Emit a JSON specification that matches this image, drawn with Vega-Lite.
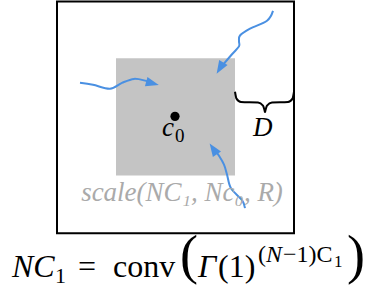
{
  "$schema": "https://vega.github.io/schema/vega-lite/v6.json",
  "width": 365,
  "height": 287,
  "autosize": {"type": "fit", "contains": "padding"},
  "padding": 0,
  "config": {"view": {"stroke": null}, "text": {"font": "Liberation Serif"}},
  "datasets": {
    "box": [{"x": 57, "x2": 294, "y": 0.5, "y2": 235.5}],
    "square": [{"x": 116, "x2": 235, "y": 58, "y2": 177}],
    "arrows": [
      {"id": "left", "i": 0, "x": 80, "y": 83},
      {"id": "left", "i": 1, "x": 93, "y": 85},
      {"id": "left", "i": 2, "x": 110, "y": 89},
      {"id": "left", "i": 3, "x": 122, "y": 83},
      {"id": "left", "i": 4, "x": 134, "y": 79},
      {"id": "left", "i": 5, "x": 146, "y": 81},
      {"id": "left", "i": 6, "x": 153, "y": 83.5},
      {"id": "top", "i": 0, "x": 273, "y": 10},
      {"id": "top", "i": 1, "x": 267, "y": 20},
      {"id": "top", "i": 2, "x": 250, "y": 28},
      {"id": "top", "i": 3, "x": 240, "y": 35},
      {"id": "top", "i": 4, "x": 239, "y": 41},
      {"id": "top", "i": 5, "x": 239, "y": 46},
      {"id": "top", "i": 6, "x": 232, "y": 54},
      {"id": "top", "i": 7, "x": 221, "y": 67},
      {"id": "bottom", "i": 0, "x": 245, "y": 210},
      {"id": "bottom", "i": 1, "x": 242, "y": 202},
      {"id": "bottom", "i": 2, "x": 231, "y": 190},
      {"id": "bottom", "i": 3, "x": 227, "y": 176},
      {"id": "bottom", "i": 4, "x": 224, "y": 166},
      {"id": "bottom", "i": 5, "x": 219, "y": 157},
      {"id": "bottom", "i": 6, "x": 214, "y": 150}
    ],
    "heads": [
      {"id": "left", "x": 152.5, "y": 83.5, "angle": 105},
      {"id": "top", "x": 220, "y": 68, "angle": 211},
      {"id": "bottom", "x": 213.3, "y": 150, "angle": 326}
    ],
    "brace": [
      {"side": "l", "i": 0, "x": 235, "y": 92},
      {"side": "l", "i": 1, "x": 236.5, "y": 99},
      {"side": "l", "i": 2, "x": 241, "y": 102.5},
      {"side": "l", "i": 3, "x": 258, "y": 103},
      {"side": "l", "i": 4, "x": 263, "y": 106},
      {"side": "l", "i": 5, "x": 265, "y": 113},
      {"side": "r", "i": 0, "x": 265, "y": 113},
      {"side": "r", "i": 1, "x": 267, "y": 106},
      {"side": "r", "i": 2, "x": 272, "y": 103},
      {"side": "r", "i": 3, "x": 288, "y": 102.5},
      {"side": "r", "i": 4, "x": 292.5, "y": 99},
      {"side": "r", "i": 5, "x": 294, "y": 92}
    ],
    "dot": [{"x": 175, "y": 117}],
    "labels": [
      {"role": "mathItalic", "text": "c", "x": 162, "y": 137},
      {"role": "mathSub", "text": "0", "x": 175, "y": 143},
      {"role": "mathItalic", "text": "D", "x": 253, "y": 137},
      {"role": "caption", "text": "scale(NC₁, Nc₀, R)", "x": 182, "y": 203},
      {"role": "eqItalic", "text": "NC", "x": 12, "y": 280},
      {"role": "eqSub", "text": "1", "x": 55, "y": 286},
      {"role": "eqRoman", "text": "=", "x": 78, "y": 280},
      {"role": "eqRoman", "text": "conv", "x": 113, "y": 280},
      {"role": "bigParen", "text": "(", "x": 180, "y": 276},
      {"role": "eqItalic", "text": "Γ", "x": 198, "y": 280},
      {"role": "eqRoman", "text": "(1)", "x": 218, "y": 280},
      {"role": "supRoman", "text": "(", "x": 258, "y": 265},
      {"role": "supItalic", "text": "N", "x": 266, "y": 265},
      {"role": "supRoman", "text": "−1)C", "x": 283, "y": 265},
      {"role": "supSub", "text": "1", "x": 334, "y": 270},
      {"role": "bigParen", "text": ")", "x": 347, "y": 276}
    ]
  },
  "encoding": {
    "x": {"field": "x", "type": "quantitative", "scale": {"domain": [0, 365], "nice": false, "zero": false}, "axis": null},
    "y": {"field": "y", "type": "quantitative", "scale": {"domain": [0, 287], "nice": false, "zero": false, "reverse": true}, "axis": null}
  },
  "layer": [
    {"data": {"name": "square"}, "mark": {"type": "rect", "fill": "#c4c4c4"}, "encoding": {"x2": {"field": "x2"}, "y2": {"field": "y2"}}},
    {"data": {"name": "box"}, "mark": {"type": "rect", "fill": null, "filled": false, "stroke": "#000000", "strokeWidth": 2}, "encoding": {"x2": {"field": "x2"}, "y2": {"field": "y2"}}},
    {"data": {"name": "arrows"}, "mark": {"type": "line", "interpolate": "cardinal", "stroke": "#4a90e2", "strokeWidth": 2}, "encoding": {"detail": {"field": "id"}, "order": {"field": "i", "type": "quantitative"}}},
    {"data": {"name": "heads"}, "mark": {"type": "point", "shape": "M0,-1L0.75,1L-0.75,1Z", "filled": true, "fill": "#4a90e2", "opacity": 1, "size": 170, "strokeWidth": 0}, "encoding": {"angle": {"field": "angle", "type": "quantitative", "scale": null}}},
    {"data": {"name": "brace"}, "mark": {"type": "line", "interpolate": "monotone", "stroke": "#000000", "strokeWidth": 2}, "encoding": {"detail": {"field": "side"}, "order": {"field": "i", "type": "quantitative"}}},
    {"data": {"name": "dot"}, "mark": {"type": "circle", "fill": "#000000", "opacity": 1, "size": 85}},
    {"data": {"name": "labels"}, "transform": [{"filter": "datum.role === 'mathItalic'"}], "mark": {"type": "text", "font": "Liberation Serif", "fontStyle": "italic", "fontSize": 27, "align": "left", "baseline": "alphabetic", "color": "#000000"}, "encoding": {"text": {"field": "text"}}},
    {"data": {"name": "labels"}, "transform": [{"filter": "datum.role === 'mathSub'"}], "mark": {"type": "text", "font": "Liberation Serif", "fontSize": 19, "align": "left", "baseline": "alphabetic", "color": "#000000"}, "encoding": {"text": {"field": "text"}}},
    {"data": {"name": "labels"}, "transform": [{"filter": "datum.role === 'caption'"}], "mark": {"type": "text", "font": "Liberation Serif", "fontStyle": "italic", "fontWeight": "normal", "fontSize": 27, "align": "center", "baseline": "alphabetic", "color": "#aaaaaa"}, "encoding": {"text": {"field": "text"}}},
    {"data": {"name": "labels"}, "transform": [{"filter": "datum.role === 'eqItalic'"}], "mark": {"type": "text", "font": "Liberation Serif", "fontStyle": "italic", "fontSize": 32, "align": "left", "baseline": "alphabetic", "color": "#000000"}, "encoding": {"text": {"field": "text"}}},
    {"data": {"name": "labels"}, "transform": [{"filter": "datum.role === 'eqRoman'"}], "mark": {"type": "text", "font": "Liberation Serif", "fontSize": 32, "align": "left", "baseline": "alphabetic", "color": "#000000"}, "encoding": {"text": {"field": "text"}}},
    {"data": {"name": "labels"}, "transform": [{"filter": "datum.role === 'eqSub'"}], "mark": {"type": "text", "font": "Liberation Serif", "fontSize": 22, "align": "left", "baseline": "alphabetic", "color": "#000000"}, "encoding": {"text": {"field": "text"}}},
    {"data": {"name": "labels"}, "transform": [{"filter": "datum.role === 'bigParen'"}], "mark": {"type": "text", "font": "Liberation Serif", "fontSize": 54, "align": "left", "baseline": "alphabetic", "color": "#000000"}, "encoding": {"text": {"field": "text"}}},
    {"data": {"name": "labels"}, "transform": [{"filter": "datum.role === 'supRoman'"}], "mark": {"type": "text", "font": "Liberation Serif", "fontSize": 24, "align": "left", "baseline": "alphabetic", "color": "#000000"}, "encoding": {"text": {"field": "text"}}},
    {"data": {"name": "labels"}, "transform": [{"filter": "datum.role === 'supItalic'"}], "mark": {"type": "text", "font": "Liberation Serif", "fontStyle": "italic", "fontSize": 24, "align": "left", "baseline": "alphabetic", "color": "#000000"}, "encoding": {"text": {"field": "text"}}},
    {"data": {"name": "labels"}, "transform": [{"filter": "datum.role === 'supSub'"}], "mark": {"type": "text", "font": "Liberation Serif", "fontSize": 17, "align": "left", "baseline": "alphabetic", "color": "#000000"}, "encoding": {"text": {"field": "text"}}}
  ]
}
